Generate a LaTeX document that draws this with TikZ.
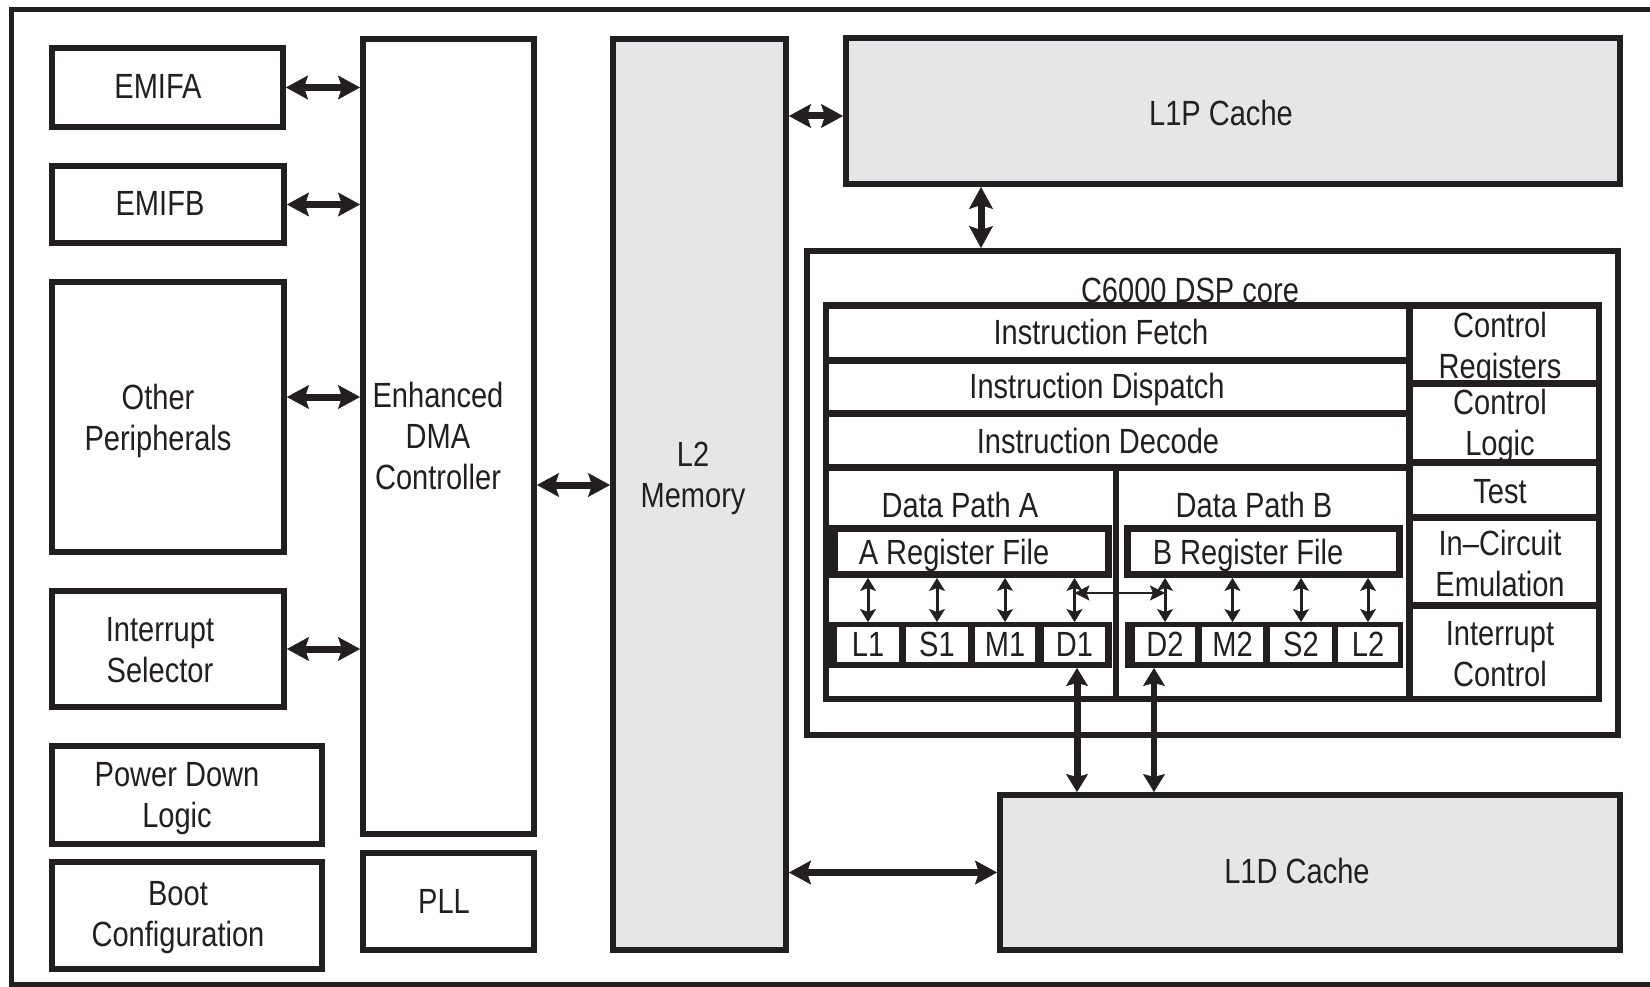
\documentclass[tikz,border=0pt]{standalone}
\usepackage{fontspec}
\setmainfont{Liberation Sans}[FakeStretch=0.83]
\usetikzlibrary{arrows.meta}
\definecolor{ink}{HTML}{231F20}
\definecolor{shade}{HTML}{E6E6E8}
\newcommand\mystrut{\rule[-8pt]{0pt}{34pt}}
% box by outer edges (line width 6)
\newcommand\mkbox[6]{\node[#2,minimum width={#5-#3-6},minimum height={#6-#4-6}] (#1) at ({(#3+#5)/2},{(#4+#6)/2}) {};}
% filled cell by exact edges
\newcommand\mkcell[6]{\node[#2,minimum width={#5-#3},minimum height={#6-#4}] (#1) at ({(#3+#5)/2},{(#4+#6)/2}) {};}
\begin{document}
\begin{tikzpicture}[x=1pt,y=-1pt,
  frame/.style={draw=ink,line width=5pt},
  blk/.style={draw=ink,line width=6pt,inner sep=0pt,fill=white},
  gblk/.style={blk,fill=shade},
  solid/.style={fill=ink,inner sep=0pt,outer sep=0pt},
  wcell/.style={fill=white,inner sep=0pt,outer sep=0pt},
  tx/.style={font=\fontsize{35}{41}\selectfont,align=center,inner sep=0pt,text=ink},
  big/.style={draw=ink,line width=7pt,arrows={Stealth[length=22pt,width=24pt,inset=4pt,line width=0.5pt]-Stealth[length=22pt,width=24pt,inset=4pt,line width=0.5pt]}},
  bigv/.style={draw=ink,line width=7pt,arrows={Stealth[length=18pt,width=22pt,inset=3pt,line width=0.5pt]-Stealth[length=18pt,width=22pt,inset=3pt,line width=0.5pt]}},
  sm/.style={draw=ink,line width=3pt,arrows={Stealth[length=13pt,width=16pt,inset=3pt,line width=0.5pt]-Stealth[length=13pt,width=16pt,inset=3pt,line width=0.5pt]}},
  th/.style={draw=ink,line width=2pt,arrows={Stealth[length=15pt,width=15pt,inset=3pt,line width=0.5pt]-Stealth[length=15pt,width=15pt,inset=3pt,line width=0.5pt]}}
]
\useasboundingbox (0,0) rectangle (1650,987);
\fill[white] (0,0) rectangle (1650,987);
% outer frame (right side runs off the page)
\coordinate (fr1) at (1660,10);
\coordinate (fr2) at (11,10);
\coordinate (fr3) at (11,984);
\coordinate (fr4) at (1660,984);
\draw[frame] (fr1) -- (fr2) -- (fr3) -- (fr4);

% left column
\mkbox{emifa}{blk}{49}{45}{286}{130}
\mkbox{emifb}{blk}{49}{163}{287}{246}
\mkbox{other}{blk}{49}{279}{287}{555}
\mkbox{intsel}{blk}{49}{588}{287}{710}
\mkbox{pdl}{blk}{49}{743}{325}{847}
\mkbox{boot}{blk}{49}{859}{325}{972}
\mkbox{edma}{blk}{360}{36}{537}{837}
\mkbox{pll}{blk}{360}{850}{537}{953}
\mkbox{l2}{gblk}{610}{36}{789}{953}
\mkbox{l1p}{gblk}{843}{35}{1623}{187}
\mkbox{l1d}{gblk}{997}{792}{1623}{953}
\mkbox{coreo}{blk}{804}{248}{1621}{738}

% DSP core internals
\mkcell{corein}{solid}{823}{302}{1602}{702}
\mkcell{fetch}{wcell}{829}{309}{1406}{357}
\mkcell{disp}{wcell}{829}{364}{1406}{410}
\mkcell{dec}{wcell}{829}{417}{1406}{464}
\mkcell{dpa}{wcell}{829}{471}{1113}{696}
\mkcell{dpb}{wcell}{1119}{471}{1406}{696}
\mkcell{creg}{wcell}{1413}{309}{1596}{380}
\mkcell{clog}{wcell}{1413}{387}{1596}{459}
\mkcell{test}{wcell}{1413}{466}{1596}{514}
\mkcell{ice}{wcell}{1413}{521}{1596}{602}
\mkcell{ictl}{wcell}{1413}{609}{1596}{696}

\mkcell{arfo}{solid}{829}{525}{1112}{578}
\mkcell{arf}{wcell}{838}{532}{1105}{571}
\mkcell{brfo}{solid}{1124}{525}{1403}{578}
\mkcell{brf}{wcell}{1131}{532}{1396}{571}

\mkcell{banda}{solid}{829}{622}{1112}{668}
\mkcell{bandb}{solid}{1125}{622}{1403}{668}
\mkcell{ul1}{wcell}{837}{627}{899}{662}
\mkcell{us1}{wcell}{906}{627}{968}{662}
\mkcell{um1}{wcell}{975}{627}{1035}{662}
\mkcell{ud1}{wcell}{1044}{627}{1105}{662}
\mkcell{ud2}{wcell}{1135}{627}{1195}{662}
\mkcell{um2}{wcell}{1202}{627}{1263}{662}
\mkcell{us2}{wcell}{1270}{627}{1332}{662}
\mkcell{ul2}{wcell}{1338}{627}{1398}{662}

% texts
\node[tx] (t-emifa) at (158,89.5) {\mystrut EMIFA};
\node[tx] (t-emifb) at (160,206.5) {\mystrut EMIFB};
\node[tx] (t-other) at (158,421) {\mystrut Other\\\mystrut Peripherals};
\node[tx] (t-intsel) at (160,652.5) {\mystrut Interrupt\\\mystrut Selector};
\node[tx] (t-pdl) at (177,797.5) {\mystrut Power Down\\\mystrut Logic};
\node[tx] (t-boot) at (178,917) {\mystrut Boot\\\mystrut Configuration};
\node[tx] (t-edma) at (438,439.5) {\mystrut Enhanced\\\mystrut DMA\\\mystrut Controller};
\node[tx] (t-pll) at (444,904.5) {\mystrut PLL};
\node[tx] (t-l2) at (693,477.5) {\mystrut L2\\\mystrut Memory};
\node[tx] (t-l1p) at (1221,116.5) {\mystrut L1P Cache};
\node[tx] (t-l1d) at (1297,874.5) {\mystrut L1D Cache};
\node[tx] (t-core) at (1190,293.5) {\mystrut C6000 DSP core};
\node[tx] (t-fetch) at (1101,335.5) {\mystrut Instruction Fetch};
\node[tx] (t-disp) at (1097,389.5) {\mystrut Instruction Dispatch};
\node[tx] (t-dec) at (1098,444.5) {\mystrut Instruction Decode};
\node[tx] (t-dpa) at (960,508.5) {\mystrut Data Path A};
\node[tx] (t-dpb) at (1254,508.5) {\mystrut Data Path B};
\node[tx] (t-arf) at (954,555.5) {\mystrut A Register File};
\node[tx] (t-brf) at (1248,555.5) {\mystrut B Register File};
\node[tx] (t-creg) at (1500,349) {\mystrut Control\\\mystrut Registers};
\node[tx] (t-clog) at (1500,426) {\mystrut Control\\\mystrut Logic};
\node[tx] (t-test) at (1500,494.5) {\mystrut Test};
\node[tx] (t-ice) at (1500,567) {\mystrut In--Circuit\\\mystrut Emulation};
\node[tx] (t-ictl) at (1500,657) {\mystrut Interrupt\\\mystrut Control};
\node[tx] (t-l1) at ([yshift=-3pt]ul1.center) {\mystrut L1};
\node[tx] (t-s1) at ([yshift=-3pt]us1.center) {\mystrut S1};
\node[tx] (t-m1) at ([yshift=-3pt]um1.center) {\mystrut M1};
\node[tx] (t-d1) at ([yshift=-3pt]ud1.center) {\mystrut D1};
\node[tx] (t-d2) at ([yshift=-3pt]ud2.center) {\mystrut D2};
\node[tx] (t-m2) at ([yshift=-3pt]um2.center) {\mystrut M2};
\node[tx] (t-s2) at ([yshift=-3pt]us2.center) {\mystrut S2};
\node[tx] (t-l2u) at ([yshift=-3pt]ul2.center) {\mystrut L2};

% connectors
\coordinate (ya) at (0,397);
\coordinate (yb) at (0,485);
\coordinate (yc) at (0,116);
\coordinate (xd) at (981,0);
\coordinate (xe) at (1077,0);
\coordinate (xf) at (1154,0);
\coordinate (yh) at (0,593);
\draw[big] (emifa.east) -- (edma.west |- emifa.east);
\draw[big] (emifb.east) -- (edma.west |- emifb.east);
\draw[big] (other.east |- ya) -- (edma.west |- ya);
\draw[big] (intsel.east) -- (edma.west |- intsel.east);
\draw[big] (edma.east |- yb) -- (l2.west |- yb);
\draw[big] (l2.east |- yc) -- (l1p.west |- yc);
\draw[big] (l1p.south -| xd) -- (coreo.north -| xd);
\draw[big] (l2.east |- l1d.west) -- (l1d.west);
\draw[bigv] (banda.south -| xe) -- (l1d.north -| xe);
\draw[bigv,line width=6pt] (bandb.south -| xf) -- (l1d.north -| xf);
\foreach \u in {ul1,us1,um1,ud1}{\draw[sm] (arfo.south -| \u.north) -- (banda.north -| \u.north);}
\foreach \u in {ud2,um2,us2,ul2}{\draw[sm] (brfo.south -| \u.north) -- (bandb.north -| \u.north);}
\draw[th] (ud1.north |- yh) -- (ud2.north |- yh);
\end{tikzpicture}
\end{document}
